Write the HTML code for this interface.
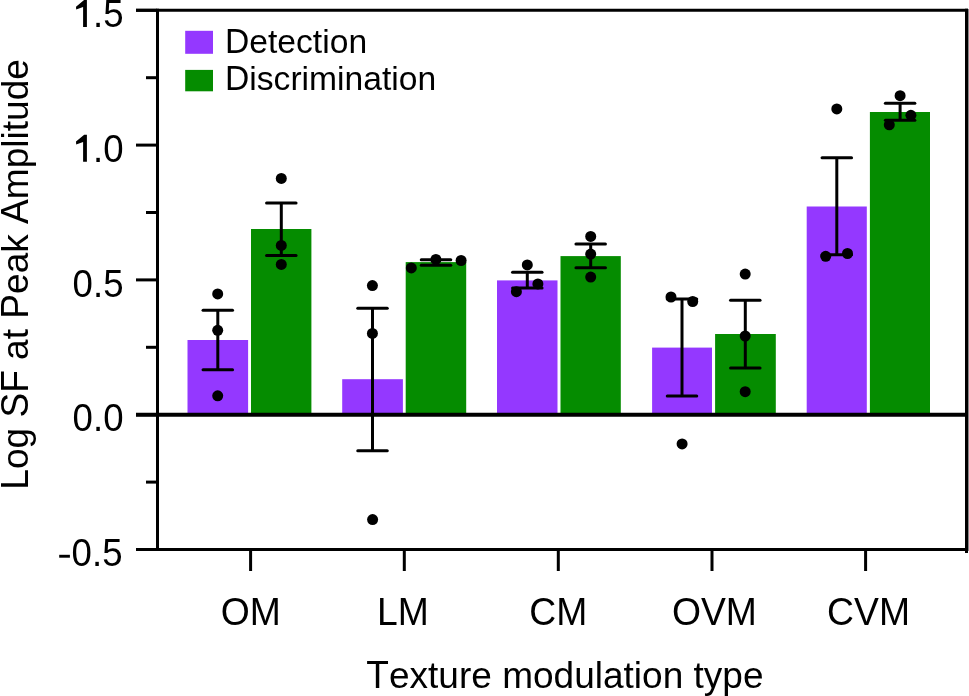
<!DOCTYPE html><html><head><meta charset="utf-8"><style>html,body{margin:0;padding:0;background:#fff;}svg{display:block;will-change:transform;}text{font-family:"Liberation Sans",sans-serif;fill:#000;font-kerning:none;}</style></head><body>
<svg width="969" height="696" viewBox="0 0 969 696">
<rect x="187.5" y="340.0" width="60.6" height="74.8" fill="#9438ff"/>
<rect x="251.0" y="229.0" width="60.4" height="185.8" fill="#058c00"/>
<rect x="342.2" y="379.2" width="60.7" height="35.6" fill="#9438ff"/>
<rect x="405.7" y="262.1" width="60.5" height="152.7" fill="#058c00"/>
<rect x="497.0" y="280.4" width="60.5" height="134.4" fill="#9438ff"/>
<rect x="560.5" y="256.1" width="60.3" height="158.7" fill="#058c00"/>
<rect x="652.1" y="347.6" width="59.9" height="67.2" fill="#9438ff"/>
<rect x="715.1" y="334.0" width="60.7" height="80.8" fill="#058c00"/>
<rect x="806.7" y="206.5" width="60.1" height="208.3" fill="#9438ff"/>
<rect x="869.9" y="112.0" width="60.1" height="302.8" fill="#058c00"/>
<g stroke="#000" fill="none" stroke-width="3">
<line x1="157.5" y1="8.7" x2="157.5" y2="551.1"/>
<line x1="136" y1="10.3" x2="968" y2="10.3"/>
<line x1="966.5" y1="8.7" x2="966.5" y2="553"/>
<line x1="136" y1="549.6" x2="968" y2="549.6"/>
<line x1="136" y1="414.8" x2="968" y2="414.8" stroke-width="4"/>
<line x1="136" y1="10.3" x2="157" y2="10.3"/>
<line x1="136" y1="145.1" x2="157" y2="145.1"/>
<line x1="136" y1="279.9" x2="157" y2="279.9"/>
<line x1="136" y1="414.7" x2="157" y2="414.7"/>
<line x1="136" y1="549.5" x2="157" y2="549.5"/>
<line x1="146" y1="77.7" x2="157" y2="77.7"/>
<line x1="146" y1="212.5" x2="157" y2="212.5"/>
<line x1="146" y1="347.3" x2="157" y2="347.3"/>
<line x1="146" y1="482.1" x2="157" y2="482.1"/>
<line x1="250.6" y1="549" x2="250.6" y2="571"/>
<line x1="404.3" y1="549" x2="404.3" y2="571"/>
<line x1="558.3" y1="549" x2="558.3" y2="571"/>
<line x1="712.0" y1="549" x2="712.0" y2="571"/>
<line x1="865.6" y1="549" x2="865.6" y2="571"/>
<line x1="217.8" y1="310.2" x2="217.8" y2="369.8"/>
<line x1="203.05" y1="310.2" x2="232.55" y2="310.2" stroke-linecap="round"/>
<line x1="203.05" y1="369.8" x2="232.55" y2="369.8" stroke-linecap="round"/>
<line x1="281.3" y1="203.0" x2="281.3" y2="255.5"/>
<line x1="266.55" y1="203.0" x2="296.05" y2="203.0" stroke-linecap="round"/>
<line x1="266.55" y1="255.5" x2="296.05" y2="255.5" stroke-linecap="round"/>
<line x1="372.5" y1="308.2" x2="372.5" y2="450.7"/>
<line x1="357.75" y1="308.2" x2="387.25" y2="308.2" stroke-linecap="round"/>
<line x1="357.75" y1="450.7" x2="387.25" y2="450.7" stroke-linecap="round"/>
<line x1="436.0" y1="259.7" x2="436.0" y2="265.2"/>
<line x1="421.25" y1="259.7" x2="450.75" y2="259.7" stroke-linecap="round"/>
<line x1="421.25" y1="265.2" x2="450.75" y2="265.2" stroke-linecap="round"/>
<line x1="527.3" y1="272.3" x2="527.3" y2="288.1"/>
<line x1="512.55" y1="272.3" x2="542.05" y2="272.3" stroke-linecap="round"/>
<line x1="512.55" y1="288.1" x2="542.05" y2="288.1" stroke-linecap="round"/>
<line x1="590.7" y1="244.1" x2="590.7" y2="267.8"/>
<line x1="575.95" y1="244.1" x2="605.45" y2="244.1" stroke-linecap="round"/>
<line x1="575.95" y1="267.8" x2="605.45" y2="267.8" stroke-linecap="round"/>
<line x1="682.0" y1="299.0" x2="682.0" y2="396.1"/>
<line x1="667.25" y1="299.0" x2="696.75" y2="299.0" stroke-linecap="round"/>
<line x1="667.25" y1="396.1" x2="696.75" y2="396.1" stroke-linecap="round"/>
<line x1="745.3" y1="300.2" x2="745.3" y2="367.9"/>
<line x1="730.55" y1="300.2" x2="760.05" y2="300.2" stroke-linecap="round"/>
<line x1="730.55" y1="367.9" x2="760.05" y2="367.9" stroke-linecap="round"/>
<line x1="836.8" y1="157.8" x2="836.8" y2="254.7"/>
<line x1="822.05" y1="157.8" x2="851.55" y2="157.8" stroke-linecap="round"/>
<line x1="822.05" y1="254.7" x2="851.55" y2="254.7" stroke-linecap="round"/>
<line x1="900.1" y1="103.3" x2="900.1" y2="120.3"/>
<line x1="885.35" y1="103.3" x2="914.85" y2="103.3" stroke-linecap="round"/>
<line x1="885.35" y1="120.3" x2="914.85" y2="120.3" stroke-linecap="round"/>
</g>
<rect x="968" y="9" width="1" height="542" fill="#888"/>
<circle cx="217.7" cy="293.9" r="5.5" fill="#000"/>
<circle cx="217.7" cy="330.3" r="5.5" fill="#000"/>
<circle cx="217.7" cy="395.8" r="5.5" fill="#000"/>
<circle cx="281.3" cy="178.4" r="5.5" fill="#000"/>
<circle cx="281.3" cy="245.4" r="5.5" fill="#000"/>
<circle cx="281.3" cy="264.4" r="5.5" fill="#000"/>
<circle cx="372.4" cy="285.6" r="5.5" fill="#000"/>
<circle cx="372.4" cy="333.4" r="5.5" fill="#000"/>
<circle cx="372.6" cy="519.6" r="5.5" fill="#000"/>
<circle cx="411.3" cy="267.9" r="5.5" fill="#000"/>
<circle cx="435.9" cy="259.4" r="5.5" fill="#000"/>
<circle cx="461.1" cy="260.5" r="5.5" fill="#000"/>
<circle cx="527.3" cy="264.9" r="5.5" fill="#000"/>
<circle cx="537.9" cy="283.9" r="5.5" fill="#000"/>
<circle cx="516.4" cy="291.7" r="5.5" fill="#000"/>
<circle cx="590.7" cy="236.4" r="5.5" fill="#000"/>
<circle cx="590.7" cy="254.1" r="5.5" fill="#000"/>
<circle cx="590.7" cy="277.1" r="5.5" fill="#000"/>
<circle cx="671.0" cy="297.0" r="5.5" fill="#000"/>
<circle cx="692.7" cy="301.5" r="5.5" fill="#000"/>
<circle cx="682.1" cy="443.9" r="5.5" fill="#000"/>
<circle cx="745.2" cy="274.1" r="5.5" fill="#000"/>
<circle cx="745.2" cy="336.0" r="5.5" fill="#000"/>
<circle cx="745.2" cy="391.7" r="5.5" fill="#000"/>
<circle cx="836.8" cy="108.9" r="5.5" fill="#000"/>
<circle cx="825.7" cy="256.3" r="5.5" fill="#000"/>
<circle cx="847.5" cy="253.5" r="5.5" fill="#000"/>
<circle cx="900.1" cy="95.7" r="5.5" fill="#000"/>
<circle cx="910.9" cy="115.3" r="5.5" fill="#000"/>
<circle cx="889.3" cy="124.8" r="5.5" fill="#000"/>
<rect x="185.2" y="30.8" width="27.8" height="23" fill="#9438ff"/>
<rect x="185.2" y="69.9" width="27.8" height="21.4" fill="#058c00"/>
<text transform="translate(225.00,52.70) translate(0.000,0) scale(1,1.0400)" font-size="33.65">D</text>
<text transform="translate(225.00,52.70) translate(24.301,0) scale(1,0.9820)" font-size="33.65">etection</text>
<text transform="translate(225.00,90.00) translate(0.000,0) scale(1,1.0400)" font-size="33.65">D</text>
<text transform="translate(225.00,90.00) translate(24.301,0) scale(1,0.9820)" font-size="33.65">iscrimination</text>
<path transform="translate(86.90,26.90)" d="M0 0V-27.0H-2.7L-10.9 -20.1L-10.7 -17.3L-3.8 -19.8V0Z" fill="#000"/>
<text transform="translate(123.50,26.90) translate(-30.524,0) scale(1,1.0450)" font-size="36.60">.5</text>
<path transform="translate(86.90,161.70)" d="M0 0V-27.0H-2.7L-10.9 -20.1L-10.7 -17.3L-3.8 -19.8V0Z" fill="#000"/>
<text transform="translate(123.50,161.70) translate(-30.524,0) scale(1,1.0450)" font-size="36.60">.0</text>
<text transform="translate(123.50,296.50) translate(-50.879,0) scale(1,1.0450)" font-size="36.60">0.5</text>
<text transform="translate(123.50,431.30) translate(-50.879,0) scale(1,1.0450)" font-size="36.60">0.0</text>
<rect x="59.2" y="554.8" width="10.7" height="2.9" fill="#000"/>
<text transform="translate(122.50,566.10) translate(-50.879,0) scale(1,1.0450)" font-size="36.60">0.5</text>
<text transform="translate(250.85,624.70) translate(-30.042,0) scale(1,1.0410)" font-size="37.30">OM</text>
<text transform="translate(403.00,624.70) translate(-25.908,0) scale(1,1.0410)" font-size="37.30">LM</text>
<text transform="translate(558.30,624.70) translate(-29.004,0) scale(1,1.0410)" font-size="37.30">CM</text>
<text transform="translate(714.40,624.70) translate(-42.482,0) scale(1,1.0410)" font-size="37.30">OVM</text>
<text transform="translate(868.55,624.70) translate(-41.443,0) scale(1,1.0410)" font-size="37.30">CVM</text>
<text transform="translate(565.00,688.00) translate(-198.629,0) scale(1,1.0400)" font-size="37.03">T</text>
<text transform="translate(565.00,688.00) translate(-176.010,0) scale(1,0.9820)" font-size="37.03">exture&#160;modulation&#160;type</text>
<text transform="translate(27.60,274.40) rotate(-90) translate(-215.276,0) scale(1,1.0400)" font-size="37.06">L</text>
<text transform="translate(27.60,274.40) rotate(-90) translate(-194.665,0) scale(1,0.9820)" font-size="37.06">og&#160;</text>
<text transform="translate(27.60,274.40) rotate(-90) translate(-143.146,0) scale(1,1.0400)" font-size="37.06">SF&#160;</text>
<text transform="translate(27.60,274.40) rotate(-90) translate(-85.493,0) scale(1,0.9820)" font-size="37.06">at&#160;</text>
<text transform="translate(27.60,274.40) rotate(-90) translate(-44.289,0) scale(1,1.0400)" font-size="37.06">P</text>
<text transform="translate(27.60,274.40) rotate(-90) translate(-19.571,0) scale(1,0.9820)" font-size="37.06">eak&#160;</text>
<text transform="translate(27.60,274.40) rotate(-90) translate(50.478,0) scale(1,1.0400)" font-size="37.06">A</text>
<text transform="translate(27.60,274.40) rotate(-90) translate(75.197,0) scale(1,0.9820)" font-size="37.06">mplitude</text>
</svg></body></html>
